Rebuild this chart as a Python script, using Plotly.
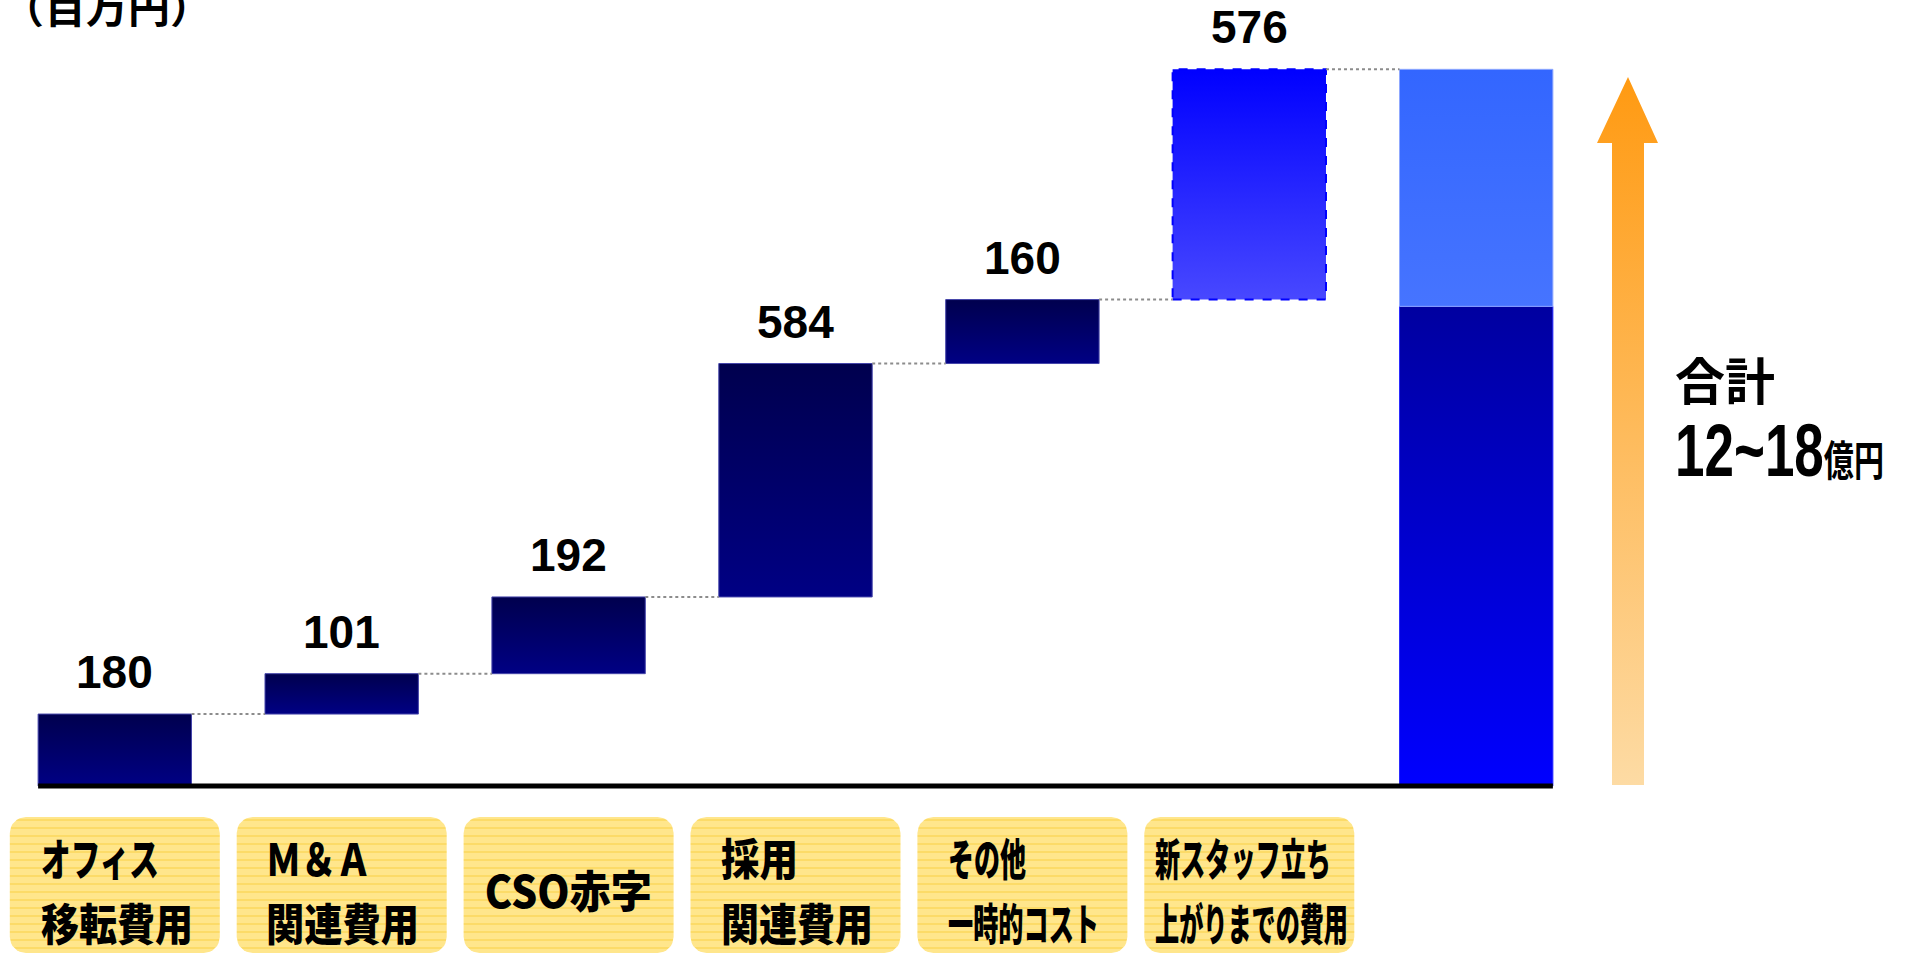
import json
import plotly.graph_objects as go

# 費用の内訳（単位：百万円）
cat_line1 = ["オフィス", "Ｍ＆Ａ", "CSO赤字", "採用", "その他", "新スタッフ立ち"]
cat_line2 = ["移転費用", "関連費用", "", "関連費用", "一時的コスト", "上がりまでの費用"]
values = [180, 101, 192, 584, 160, 576]
total_low = 1200          # 12億円
total_text_1 = "合計"
total_text_2 = "12~18"
total_unit = "億円"
unit_text = "（百万円）"

# ---- canvas geometry (pixels) ----
W, H = 1906, 955
X0_PX, DX_PX = 114.8, 226.9     # centre of first column, column pitch
Y0_PX, SY = 786.0, 0.3997       # baseline pixel, pixels per 百万円
HALF = 0.338                    # half bar width (column units)

# plate lettering: left edge (px) and rendered width (px) of each line
label_left = [40, 265, None, 720, 947, 1154]
line1_width = [118, 105, 167, 77, 78, 176]
line2_width = [152, 153, 0, 152, 151, 193]
total_text_width = 209


def px_x(px):
    return (px - X0_PX) / DX_PX


def px_y(py):
    return (Y0_PX - py) / SY


def rect(x0, x1, y0, y1):
    return [x0, x1, x1, x0, x0], [y0, y0, y1, y1, y0]


def rounded_box_px(left, top, right, bottom, r, n=8):
    import math
    pts = []
    corners = [(right - r, top + r, -90, 0), (right - r, bottom - r, 0, 90),
               (left + r, bottom - r, 90, 180), (left + r, top + r, 180, 270)]
    for cx, cy, a0, a1 in corners:
        for k in range(n + 1):
            a = math.radians(a0 + (a1 - a0) * k / n)
            pts.append((cx + r * math.cos(a), cy + r * math.sin(a)))
    pts.append(pts[0])
    return [px_x(p[0]) for p in pts], [px_y(p[1]) for p in pts]


fig = go.Figure()

# ---- category label plates (striped yellow) ----
for i in range(len(values)):
    cx = X0_PX + DX_PX * i
    bx, by = rounded_box_px(cx - 105, 817, cx + 105, 953, 16)
    fig.add_trace(go.Scatter(
        x=bx, y=by, mode="lines", fill="toself",
        line=dict(width=0, color="#F6C828"),
        fillcolor="#FFE68C",
        fillpattern=dict(shape="-", bgcolor="#FFE68C", fgcolor="#F7C928",
                         size=8, solidity=0.18),
        hoverinfo="skip"))

# ---- step bars ----
cum = [0]
for v in values:
    cum.append(cum[-1] + v)
total_high = cum[-1]

for i, v in enumerate(values):
    xs, ys = rect(i - HALF, i + HALF, cum[i], cum[i + 1])
    if i < len(values) - 1:
        grad = [[0, "#000084"], [1, "#00004E"]]
        line = dict(color="#4545AA", width=1)
    else:
        grad = [[0, "#4848FF"], [1, "#0000FF"]]
        line = dict(color="#0000FF", width=2, dash="dash")
    fig.add_trace(go.Scatter(
        x=xs, y=ys, mode="lines", fill="toself",
        fillgradient=dict(type="vertical", colorscale=grad),
        line=line, hoverinfo="skip"))

# total column: lower (12億) and upper (18億) parts
t = len(values)
xs, ys = rect(t - HALF, t + HALF, 0, total_low)
fig.add_trace(go.Scatter(
    x=xs, y=ys, mode="lines", fill="toself",
    fillgradient=dict(type="vertical", colorscale=[[0, "#0000FF"], [1, "#0000A0"]]),
    line=dict(color="#2A2AFF", width=1), hoverinfo="skip"))
xs, ys = rect(t - HALF, t + HALF, total_low, total_high)
fig.add_trace(go.Scatter(
    x=xs, y=ys, mode="lines", fill="toself",
    fillgradient=dict(type="vertical", colorscale=[[0, "#4674FF"], [1, "#3366FF"]]),
    line=dict(color="#8FA8FF", width=1), hoverinfo="skip"))

# dotted connectors between steps
cx_, cy_ = [], []
for i in range(len(values)):
    cx_ += [i + HALF, i + 1 - HALF, None]
    cy_ += [cum[i + 1], cum[i + 1], None]
fig.add_trace(go.Scatter(x=cx_, y=cy_, mode="lines",
                         line=dict(color="#8C8C8C", width=2, dash="dot"),
                         hoverinfo="skip"))

# orange arrow
arrow_px = [(1612, 785), (1644, 785), (1644, 143), (1658, 143), (1628, 77),
            (1597, 143), (1612, 143), (1612, 785)]
fig.add_trace(go.Scatter(
    x=[px_x(p[0]) for p in arrow_px], y=[px_y(p[1]) for p in arrow_px],
    mode="lines", fill="toself", line=dict(width=0, color="rgba(0,0,0,0)"),
    fillgradient=dict(type="vertical", colorscale=[[0, "#FDDBA4"], [1, "#FF9A12"]]),
    hoverinfo="skip"))

# baseline
fig.add_shape(type="line", x0=-HALF, x1=t + HALF, y0=0, y1=0,
              line=dict(color="black", width=5), layer="above")

annotations = []
condense = {}   # annotation index -> [target width, transform origin]

NUM_FONT = dict(family="Liberation Sans, Arial, sans-serif", size=46,
                color="black", weight="bold")
for i, v in enumerate(values):
    annotations.append(dict(x=i, y=cum[i + 1], text=str(v), showarrow=False,
                            xanchor="center", yanchor="bottom", yshift=14,
                            font=NUM_FONT))

CJK = "Noto Sans CJK JP, Noto Sans, sans-serif"
LABEL_FONT = dict(family=CJK, size=44, color="black", weight=900)
for i in range(len(values)):
    if cat_line2[i]:
        for txt, ypx, wpx in ((cat_line1[i], 857, line1_width[i]),
                              (cat_line2[i], 922, line2_width[i])):
            condense[len(annotations)] = [wpx, "left"]
            annotations.append(dict(x=px_x(label_left[i]), y=px_y(ypx), text=txt,
                                    showarrow=False, xanchor="left",
                                    yanchor="middle", borderpad=0,
                                    font=LABEL_FONT))
    else:
        condense[len(annotations)] = [line1_width[i], "center"]
        annotations.append(dict(x=i, y=px_y(889), text=cat_line1[i],
                                showarrow=False, xanchor="center",
                                yanchor="middle", borderpad=0,
                                font=LABEL_FONT))

annotations.append(dict(x=px_x(1673), y=px_y(378), text=total_text_1,
                        showarrow=False, xanchor="left", yanchor="middle",
                        font=dict(family=CJK, size=50, color="black", weight="bold")))
condense[len(annotations)] = [total_text_width, "left"]
annotations.append(dict(
    x=px_x(1673), y=px_y(450),
    text=(total_text_2 + "<span style='font-family:Noto Sans CJK JP;"
          "font-size:42px'>" + total_unit + "</span>"),
    showarrow=False, xanchor="left", yanchor="middle",
    font=dict(family="Liberation Sans, Arial, sans-serif",
              size=74, color="black", weight="bold")))

annotations.append(dict(x=px_x(0), y=px_y(4), text=unit_text, showarrow=False,
                        xanchor="left", yanchor="middle",
                        font=dict(family=CJK, size=42, color="black", weight="bold")))

fig.update_layout(
    width=W, height=H,
    margin=dict(l=0, r=0, t=0, b=0),
    paper_bgcolor="white", plot_bgcolor="white",
    showlegend=False, hovermode=False,
    xaxis=dict(range=[px_x(0), px_x(W)], visible=False, fixedrange=True),
    yaxis=dict(range=[px_y(H), px_y(0)], visible=False, fixedrange=True),
    annotations=annotations,
)

# horizontally condense the heavy Japanese lettering to its set width
condense_js = """
(function(){
  var gd = document.getElementById('{plot_id}');
  var targets = %s;
  function squeeze(el, s, origin){
    el.style.transformBox = 'fill-box';
    el.style.transformOrigin = origin + ' 50%%';
    el.style.transform = 'scaleX(' + s + ')';
  }
  function apply(){
    gd.querySelectorAll('g.annotation').forEach(function(g){
      var idx = g.getAttribute('data-index');
      if (!(idx in targets)) return;
      var t = g.querySelector('text.annotation-text');
      if (!t) return;
      var bg = g.querySelector('rect.bg');
      t.style.transform = '';
      if (bg) bg.style.transform = '';
      var w = t.getBBox().width;
      if (!w) return;
      var s = targets[idx][0] / w;
      squeeze(t, s, targets[idx][1]);
      if (bg) squeeze(bg, s, targets[idx][1]);
    });
  }
  apply();
  if (gd.on) gd.on('plotly_afterplot', apply);
})();
""" % json.dumps({str(k): v for k, v in condense.items()})

fig.write_html("out.html", post_script=condense_js)
